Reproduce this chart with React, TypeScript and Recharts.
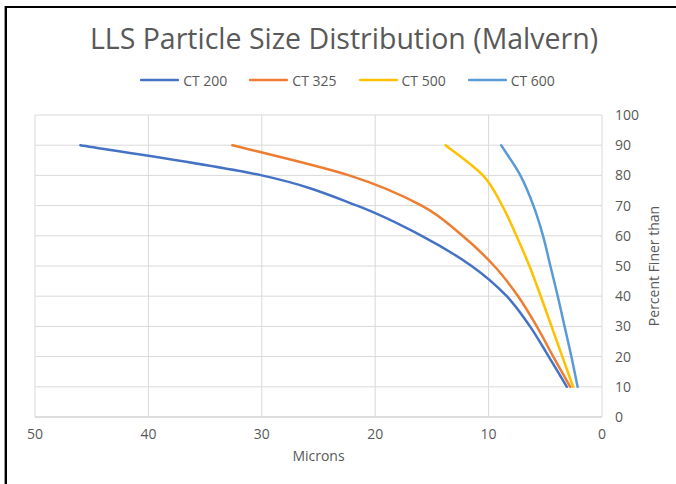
import React from 'react';
import { LineChart, Line, XAxis, YAxis, CartesianGrid, Legend } from 'recharts';

// Percent finer than (y) at each read point
const percentFiner = [90, 80, 70, 60, 50, 40, 30, 20, 10];
// Particle size in microns (x) for each series at those percent levels
const ct200Microns = [46.0, 30.0, 21.6, 15.9, 11.5, 8.4, 6.35, 4.7, 3.1];
const ct325Microns = [32.6, 22.3, 15.9, 12.3, 9.5, 7.4, 5.75, 4.3, 2.8];
const ct500Microns = [13.8, 10.5, 8.8, 7.55, 6.4, 5.4, 4.45, 3.5, 2.55];
const ct600Microns = [8.9, 7.2, 6.05, 5.2, 4.55, 3.9, 3.3, 2.7, 2.15];

const xTicks = [0, 10, 20, 30, 40, 50];
const yTicks = [0, 10, 20, 30, 40, 50, 60, 70, 80, 90, 100];

const seriesNames = ['CT 200', 'CT 325', 'CT 500', 'CT 600'];
const seriesColors = ['#4472C4', '#ED7D31', '#FFC000', '#5B9BD5'];
const seriesMicrons = [ct200Microns, ct325Microns, ct500Microns, ct600Microns];

const build = (microns: number[]) => microns.map((m, i) => ({ x: m, y: percentFiner[i] }));

const FONT = '"Open Sans", sans-serif';
const TEXT = '#595959';

// Spreadsheet-style smoothed line (Catmull-Rom as cubic Bezier, parametric)
const smoothCurve = (context: any) => {
  let pts: number[][] = [];
  return {
    areaStart() {},
    areaEnd() {},
    lineStart() {
      pts = [];
    },
    point(x: number, y: number) {
      pts.push([+x, +y]);
    },
    lineEnd() {
      const n = pts.length;
      if (!n) return;
      context.moveTo(pts[0][0], pts[0][1]);
      if (n === 2) {
        context.lineTo(pts[1][0], pts[1][1]);
        return;
      }
      for (let i = 0; i < n - 1; i++) {
        const p0 = pts[i - 1] || pts[i];
        const p1 = pts[i];
        const p2 = pts[i + 1];
        const p3 = pts[i + 2] || pts[i + 1];
        context.bezierCurveTo(
          p1[0] + (p2[0] - p0[0]) / 6,
          p1[1] + (p2[1] - p0[1]) / 6,
          p2[0] - (p3[0] - p1[0]) / 6,
          p2[1] - (p3[1] - p1[1]) / 6,
          p2[0],
          p2[1],
        );
      }
    },
  };
};

const renderLegend = (props: any) => {
  const payload = props.payload || [];
  return (
    <div
      style={{
        display: 'flex',
        justifyContent: 'center',
        alignItems: 'center',
        gap: 22,
        paddingLeft: 19,
        height: 20,
        fontFamily: FONT,
        fontSize: 14,
        color: TEXT,
      }}
    >
      {payload.map((p: any) => (
        <div key={p.value} style={{ display: 'flex', alignItems: 'center' }}>
          <svg width={39} height={6} style={{ marginRight: 4 }}>
            <line x1={1} y1={3} x2={38} y2={3} stroke={p.color} strokeWidth={2.5} strokeLinecap="round" />
          </svg>
          <span>{p.value}</span>
        </div>
      ))}
    </div>
  );
};

const YLabel = (props: any) => {
  const vb = props.viewBox || { x: 0, y: 0, width: 0, height: 0 };
  const cx = vb.x + 51;
  const cy = vb.y + vb.height / 2;
  return (
    <text
      x={cx}
      y={cy}
      transform={`rotate(-90 ${cx} ${cy})`}
      textAnchor="middle"
      dominantBaseline="central"
      fill={TEXT}
      fontSize={14}
      fontFamily={FONT}
    >
      Percent Finer than
    </text>
  );
};

export default function App() {
  return (
    <div style={{ position: 'absolute', left: 0, top: 0, width: 676, height: 484, background: '#fff', overflow: 'hidden' }}>
      <div
        style={{
          position: 'absolute',
          left: 5,
          top: 6,
          width: 700,
          height: 500,
          borderTop: '2px solid #000',
          borderLeft: '2px solid #000',
          boxShadow: '-1px 0 0 #9a9a9a',
        }}
      />
      <div
        style={{
          position: 'absolute',
          left: 0,
          top: 24,
          width: 676,
          paddingLeft: 12,
          boxSizing: 'border-box',
          textAlign: 'center',
          fontFamily: FONT,
          fontSize: 28.5,
          lineHeight: '28px',
          color: TEXT,
          whiteSpace: 'nowrap',
        }}
      >
        LLS Particle Size Distribution (Malvern)
      </div>
      <div style={{ position: 'absolute', left: 0, top: 0 }}>
        <LineChart width={676} height={484} margin={{ top: 115, right: 14, bottom: 27, left: 35 }}>
          <CartesianGrid stroke="#d9d9d9" strokeWidth={1} />
          <XAxis
            type="number"
            dataKey="x"
            domain={[0, 50]}
            ticks={xTicks}
            reversed
            allowDataOverflow
            height={40}
            tickLine={false}
            tickMargin={6}
            axisLine={{ stroke: '#d0d0d0' }}
            tick={{ fill: TEXT, fontSize: 14, fontFamily: FONT }}
            label={{ value: 'Microns', position: 'insideBottom', offset: -4, fill: TEXT, fontSize: 14, fontFamily: FONT }}
          />
          <YAxis
            type="number"
            dataKey="y"
            orientation="right"
            domain={[0, 100]}
            ticks={yTicks}
            width={60}
            tickLine={false}
            tickMargin={7}
            axisLine={false}
            tick={{ fill: TEXT, fontSize: 14, fontFamily: FONT, textAnchor: 'start' }}
            label={<YLabel />}
          />
          <Legend
            verticalAlign="middle"
            align="center"
            wrapperStyle={{ top: 70, left: 0, width: 676 }}
            content={renderLegend}
          />
          {seriesNames.map((name, i) => (
            <Line
              key={name}
              name={name}
              data={build(seriesMicrons[i])}
              dataKey="y"
              type={smoothCurve as any}
              stroke={seriesColors[i]}
              strokeWidth={2.5}
              strokeLinecap="round"
              dot={false}
              activeDot={false}
              isAnimationActive={false}
            />
          ))}
        </LineChart>
      </div>
    </div>
  );
}
